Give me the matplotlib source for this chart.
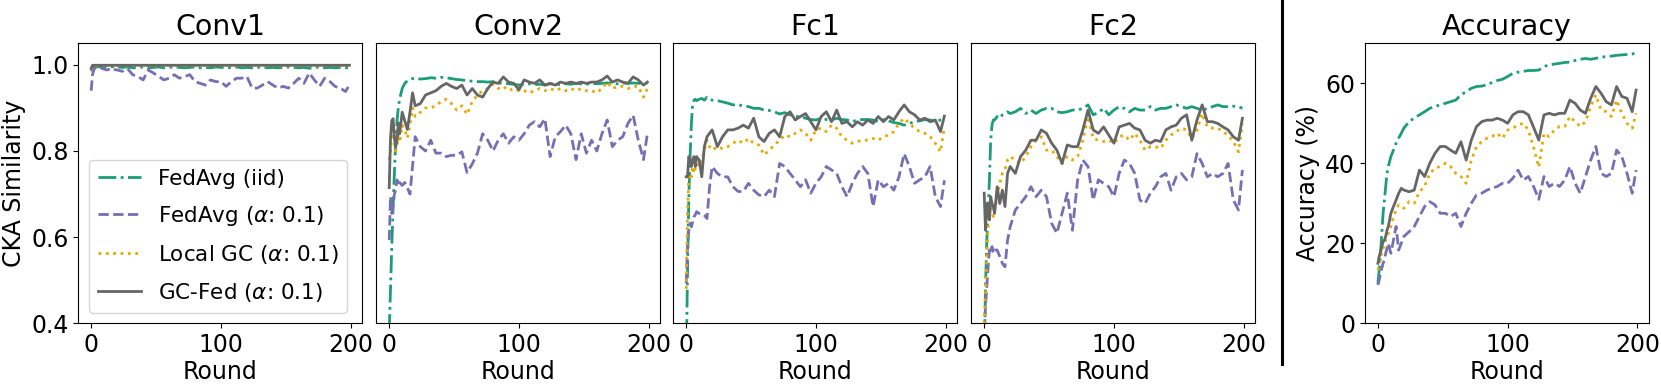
import numpy as np
import matplotlib
matplotlib.use("Agg")
import matplotlib.pyplot as plt
from matplotlib.lines import Line2D

# rounds at which values were read (dense at the start, every 4 rounds after 20)
rounds = [0, 1, 2, 3, 4, 5, 6, 7, 8, 10, 12, 14, 16, 18, 20] + list(range(24, 197, 4)) + [199]

panels = ["Conv1", "Conv2", "Fc1", "Fc2"]
labels = ["FedAvg (iid)", r"FedAvg ($\alpha$: 0.1)", r"Local GC ($\alpha$: 0.1)", r"GC-Fed ($\alpha$: 0.1)"]

# ---- Conv1 ----
conv1_iid = [0.985, 0.990, 0.993, 0.995, 0.995, 0.996, 0.995, 0.996, 0.995, 0.996, 0.995, 0.996, 0.995, 0.996, 0.995,
             0.994, 0.995, 0.993, 0.994, 0.995, 0.993, 0.994, 0.995, 0.993, 0.994, 0.995, 0.994, 0.993, 0.994, 0.995,
             0.993, 0.994, 0.993, 0.995, 0.994, 0.993, 0.994, 0.995, 0.993, 0.994, 0.993, 0.994, 0.995, 0.993, 0.994,
             0.993, 0.994, 0.995, 0.994, 0.993, 0.994, 0.992, 0.994, 0.995, 0.993, 0.994, 0.993, 0.994, 0.993, 0.994]
conv1_avg = [0.940, 0.977, 0.988, 0.993, 0.996, 0.994, 0.992, 0.993, 0.992, 0.990, 0.988, 0.990, 0.992, 0.989, 0.988,
             0.985, 0.991, 0.977, 0.973, 0.965, 0.988, 0.981, 0.973, 0.965, 0.969,
             0.977, 0.969, 0.973, 0.977, 0.961, 0.957, 0.953, 0.965, 0.961, 0.961,
             0.950, 0.961, 0.969, 0.969, 0.973, 0.946, 0.946, 0.953, 0.961, 0.953,
             0.946, 0.950, 0.946, 0.957, 0.969, 0.957, 0.981, 0.965, 0.950, 0.969,
             0.961, 0.950, 0.946, 0.938, 0.953]
conv1_lgc = [0.988] + [0.998] * 59
conv1_gcfed = [0.992] + [0.999] * 59

# ---- Conv2 ----
conv2_iid = [0.38, 0.48, 0.58, 0.67, 0.75, 0.82, 0.87, 0.90, 0.92, 0.945, 0.957, 0.963, 0.966, 0.968, 0.969,
             0.967, 0.968, 0.970, 0.969, 0.971, 0.970, 0.968, 0.966, 0.965, 0.963,
             0.962, 0.961, 0.961, 0.960, 0.961, 0.958, 0.957, 0.956, 0.955, 0.953,
             0.955, 0.956, 0.954, 0.955, 0.953, 0.956, 0.955, 0.954, 0.956, 0.955,
             0.957, 0.956, 0.955, 0.957, 0.956, 0.957, 0.958, 0.957, 0.956, 0.958,
             0.957, 0.958, 0.957, 0.958, 0.957]
conv2_avg = [0.593, 0.694, 0.655, 0.670, 0.700, 0.710, 0.733, 0.720, 0.727, 0.720, 0.727, 0.715, 0.700, 0.765, 0.833,
             0.810, 0.800, 0.825, 0.795, 0.795, 0.787, 0.790, 0.790, 0.798, 0.750,
             0.770, 0.795, 0.840, 0.825, 0.800, 0.825, 0.840, 0.818, 0.833, 0.825,
             0.840, 0.860, 0.868, 0.856, 0.875, 0.787, 0.833, 0.845, 0.860, 0.840,
             0.780, 0.840, 0.795, 0.825, 0.800, 0.840, 0.872, 0.810, 0.825, 0.833,
             0.864, 0.883, 0.825, 0.780, 0.840]
conv2_lgc = [0.78, 0.80, 0.84, 0.85, 0.82, 0.80, 0.81, 0.84, 0.82, 0.86, 0.85, 0.83, 0.86, 0.90, 0.88,
             0.890, 0.900, 0.900, 0.905, 0.915, 0.920, 0.910, 0.895, 0.905, 0.885,
             0.915, 0.930, 0.940, 0.945, 0.955, 0.945, 0.950, 0.940, 0.945, 0.940,
             0.940, 0.935, 0.940, 0.945, 0.940, 0.945, 0.940, 0.945, 0.940, 0.945,
             0.940, 0.945, 0.940, 0.940, 0.935, 0.945, 0.960, 0.945, 0.950, 0.950,
             0.945, 0.950, 0.950, 0.925, 0.945]
conv2_gcfed = [0.715, 0.83, 0.87, 0.875, 0.83, 0.81, 0.825, 0.865, 0.84, 0.89, 0.87, 0.85, 0.89, 0.935, 0.905,
               0.910, 0.930, 0.935, 0.940, 0.950, 0.957, 0.950, 0.945, 0.953, 0.930,
               0.945, 0.930, 0.925, 0.945, 0.960, 0.957, 0.972, 0.960, 0.957, 0.942,
               0.965, 0.960, 0.957, 0.965, 0.953, 0.957, 0.953, 0.960, 0.957, 0.960,
               0.957, 0.960, 0.957, 0.960, 0.960, 0.965, 0.974, 0.960, 0.965, 0.960,
               0.957, 0.972, 0.965, 0.953, 0.960]

# ---- Fc1 ----
fc1_iid = [0.30, 0.52, 0.69, 0.79, 0.864, 0.91, 0.918, 0.92, 0.917, 0.92, 0.922, 0.918, 0.925, 0.92, 0.918,
           0.917, 0.914, 0.911, 0.907, 0.908, 0.904, 0.903, 0.899, 0.899, 0.895,
           0.894, 0.891, 0.886, 0.889, 0.884, 0.880, 0.880, 0.876, 0.873, 0.872,
           0.876, 0.873, 0.872, 0.876, 0.873, 0.872, 0.868, 0.872, 0.873, 0.873,
           0.872, 0.868, 0.873, 0.870, 0.866, 0.864, 0.860, 0.864, 0.868, 0.870,
           0.873, 0.872, 0.868, 0.872, 0.873]
fc1_avg = [0.493, 0.578, 0.616, 0.632, 0.624, 0.636, 0.647, 0.652, 0.659, 0.655, 0.655, 0.651, 0.643, 0.717, 0.764,
           0.748, 0.740, 0.740, 0.717, 0.706, 0.706, 0.725, 0.709, 0.698, 0.694,
           0.709, 0.694, 0.771, 0.764, 0.748, 0.733, 0.717, 0.733, 0.702, 0.725,
           0.740, 0.764, 0.756, 0.748, 0.717, 0.694, 0.725, 0.748, 0.764, 0.748,
           0.671, 0.733, 0.717, 0.725, 0.709, 0.740, 0.794, 0.764, 0.725, 0.733,
           0.740, 0.764, 0.694, 0.671, 0.732]
fc1_lgc = [0.48, 0.655, 0.733, 0.748, 0.740, 0.764, 0.748, 0.760, 0.771, 0.764, 0.779, 0.802, 0.825, 0.810, 0.802,
           0.810, 0.806, 0.810, 0.818, 0.825, 0.818, 0.829, 0.818, 0.814, 0.791,
           0.802, 0.814, 0.825, 0.837, 0.833, 0.841, 0.849, 0.841, 0.825, 0.849,
           0.853, 0.845, 0.860, 0.853, 0.833, 0.825, 0.818, 0.822, 0.825, 0.825,
           0.829, 0.825, 0.833, 0.837, 0.845, 0.864, 0.876, 0.864, 0.853, 0.845,
           0.841, 0.833, 0.818, 0.798, 0.856]
fc1_gcfed = [0.740, 0.740, 0.787, 0.779, 0.764, 0.779, 0.787, 0.764, 0.787, 0.779, 0.740, 0.810, 0.833, 0.841, 0.849,
             0.810, 0.833, 0.849, 0.849, 0.853, 0.860, 0.853, 0.876, 0.833, 0.822,
             0.841, 0.849, 0.833, 0.880, 0.891, 0.872, 0.880, 0.887, 0.868, 0.849,
             0.880, 0.891, 0.868, 0.895, 0.864, 0.868, 0.856, 0.868, 0.860, 0.872,
             0.864, 0.880, 0.868, 0.880, 0.872, 0.891, 0.907, 0.891, 0.884, 0.872,
             0.876, 0.868, 0.872, 0.845, 0.881]

# ---- Fc2 ----
fc2_iid = [0.30, 0.485, 0.593, 0.655, 0.733, 0.825, 0.860, 0.872, 0.872, 0.880, 0.876, 0.884, 0.887, 0.891, 0.887,
           0.891, 0.899, 0.887, 0.895, 0.887, 0.895, 0.899, 0.899, 0.891, 0.889,
           0.891, 0.895, 0.895, 0.899, 0.907, 0.884, 0.889, 0.899, 0.884, 0.895,
           0.903, 0.899, 0.891, 0.899, 0.895, 0.895, 0.903, 0.895, 0.899, 0.899,
           0.903, 0.907, 0.903, 0.899, 0.903, 0.899, 0.895, 0.899, 0.903, 0.907,
           0.903, 0.903, 0.904, 0.903, 0.899]
fc2_avg = [0.38, 0.438, 0.485, 0.531, 0.570, 0.562, 0.578, 0.562, 0.570, 0.570, 0.555, 0.539, 0.531, 0.593, 0.624,
           0.663, 0.678, 0.694, 0.717, 0.694, 0.709, 0.694, 0.632, 0.609, 0.655,
           0.702, 0.616, 0.733, 0.779, 0.764, 0.686, 0.733, 0.725, 0.717, 0.694,
           0.748, 0.779, 0.771, 0.748, 0.686, 0.678, 0.702, 0.717, 0.740, 0.748,
           0.709, 0.740, 0.748, 0.733, 0.740, 0.794, 0.771, 0.740, 0.748, 0.740,
           0.748, 0.771, 0.686, 0.663, 0.756]
fc2_lgc = [0.40, 0.47, 0.555, 0.624, 0.648, 0.671, 0.655, 0.648, 0.663, 0.694, 0.725, 0.748, 0.756, 0.779, 0.787,
           0.779, 0.771, 0.787, 0.810, 0.825, 0.833, 0.802, 0.802, 0.787, 0.771,
           0.787, 0.779, 0.787, 0.825, 0.880, 0.829, 0.825, 0.822, 0.825, 0.818,
           0.833, 0.837, 0.825, 0.841, 0.825, 0.802, 0.810, 0.810, 0.806, 0.825,
           0.837, 0.845, 0.853, 0.849, 0.829, 0.849, 0.887, 0.856, 0.853, 0.853,
           0.845, 0.837, 0.822, 0.798, 0.864]
fc2_gcfed = [0.702, 0.616, 0.678, 0.671, 0.640, 0.694, 0.678, 0.671, 0.655, 0.717, 0.678, 0.709, 0.671, 0.748, 0.764,
             0.748, 0.787, 0.802, 0.825, 0.825, 0.849, 0.841, 0.818, 0.802, 0.771,
             0.814, 0.810, 0.810, 0.849, 0.895, 0.849, 0.841, 0.856, 0.837, 0.818,
             0.856, 0.860, 0.864, 0.853, 0.849, 0.825, 0.818, 0.825, 0.822, 0.849,
             0.856, 0.860, 0.876, 0.884, 0.825, 0.872, 0.907, 0.868, 0.868, 0.864,
             0.856, 0.849, 0.833, 0.825, 0.876]

# ---- Accuracy (%) ----
acc_iid = [10.0, 13.3, 17.5, 22.5, 27.5, 30.8, 34.2, 37.5, 39.2, 41.7, 43.3, 45.0, 46.3, 47.5, 48.8,
           50.4, 51.3, 52.1, 52.9, 53.75, 54.2, 54.6, 55.0, 55.4, 55.8,
           57.1, 57.9, 58.75, 59.2, 59.3, 59.6, 60.2, 60.7, 61.0, 61.7,
           62.5, 62.8, 63.0, 63.2, 63.2, 63.3, 64.2, 64.6, 64.8, 65.0,
           65.2, 65.3, 65.7, 66.0, 66.2, 66.0, 66.25, 66.5, 66.7, 66.8,
           67.0, 67.1, 67.2, 67.3, 67.7]
acc_avg = [9.6, 10.8, 12.5, 13.75, 15.0, 15.8, 17.5, 18.75, 20.0, 17.5, 20.8, 24.2, 18.3, 20.0, 21.7,
           22.9, 24.2, 26.7, 29.2, 30.4, 29.6, 27.5, 27.5, 26.7, 27.5,
           24.2, 27.5, 30.0, 32.1, 32.5, 33.3, 33.75, 34.2, 35.0, 35.0,
           36.25, 38.3, 35.8, 36.7, 34.2, 31.0, 36.7, 34.2, 35.0, 34.2,
           35.8, 39.2, 35.0, 32.5, 36.7, 40.8, 44.2, 37.5, 36.7, 37.5,
           43.3, 41.7, 37.5, 32.5, 38.3]
acc_lgc = [13.3, 14.2, 16.7, 17.5, 18.75, 19.6, 20.8, 21.7, 22.5, 24.2, 26.7, 28.3, 29.6, 29.2, 28.75,
           30.4, 30.0, 32.9, 34.2, 37.5, 38.75, 39.2, 40.0, 39.2, 37.5,
           36.7, 35.0, 40.8, 44.2, 45.4, 46.25, 46.7, 47.5, 46.25, 48.3,
           48.75, 49.6, 50.0, 48.3, 44.0, 39.0, 47.5, 46.7, 48.3, 49.2,
           49.2, 51.7, 50.4, 49.2, 50.4, 54.2, 57.1, 53.3, 52.9, 51.7,
           55.8, 52.5, 50.0, 48.75, 52.5]
acc_gcfed = [15.0, 16.7, 17.9, 19.2, 20.4, 20.8, 21.7, 23.3, 24.2, 27.5, 29.2, 30.8, 32.5, 33.75, 33.3,
             32.9, 33.3, 38.3, 36.7, 40.0, 42.5, 44.2, 44.2, 43.3, 42.5,
             45.4, 40.8, 45.8, 49.2, 50.4, 50.8, 50.8, 51.25, 50.8, 50.0,
             52.1, 52.9, 52.9, 52.1, 49.0, 45.8, 52.1, 52.5, 52.1, 52.5,
             52.5, 55.8, 55.0, 53.3, 52.5, 56.25, 59.2, 57.5, 55.4, 54.6,
             59.2, 56.7, 56.25, 52.9, 58.3]

cka = [
    [conv1_iid, conv1_avg, conv1_lgc, conv1_gcfed],
    [conv2_iid, conv2_avg, conv2_lgc, conv2_gcfed],
    [fc1_iid, fc1_avg, fc1_lgc, fc1_gcfed],
    [fc2_iid, fc2_avg, fc2_lgc, fc2_gcfed],
]
acc = [acc_iid, acc_avg, acc_lgc, acc_gcfed]

colors = ["#1b9e77", "#7570b3", "#e6ab02", "#666666"]
styles = ["-.", "--", ":", "-"]

plt.rcParams["font.size"] = 17

W, H = 1661, 386
fig = plt.figure(figsize=(W / 100, H / 100), dpi=100)
bottom = (H - 323.3) / H
height = 280 / H
width = 284 / W
lefts = [78.3, 376.3, 673.3, 971.3]

for i, name in enumerate(panels):
    ax = fig.add_axes([lefts[i] / W, bottom, width, height])
    for j in range(4):
        ax.plot(rounds, cka[i][j], styles[j], color=colors[j], lw=2, label=labels[j])
    ax.set_ylim(0.4, 1.05)
    ax.set_xticks([0, 100, 200])
    ax.set_title(name)
    ax.set_xlabel("Round", labelpad=2)
    if i == 0:
        ax.set_ylabel("CKA Similarity")
        ax.set_yticks([0.4, 0.6, 0.8, 1.0])
        ax.legend(loc="lower left", fontsize=15.5, labelspacing=0.7)
    else:
        ax.set_yticks([])

ax = fig.add_axes([1365 / W, bottom, width, height])
for j in range(4):
    ax.plot(rounds, acc[j], styles[j], color=colors[j], lw=2, label=labels[j])
ax.set_ylim(0, 70)
ax.set_xticks([0, 100, 200])
ax.set_yticks([0, 20, 40, 60])
ax.set_title("Accuracy")
ax.set_xlabel("Round", labelpad=2)
ax.set_ylabel("Accuracy (%)")

# separator between CKA panels and accuracy
fig.add_artist(Line2D([1281.7 / W, 1281.7 / W], [1.0, (H - 364) / H], color="black", lw=2.2))

fig.savefig("out.png", dpi=100)
